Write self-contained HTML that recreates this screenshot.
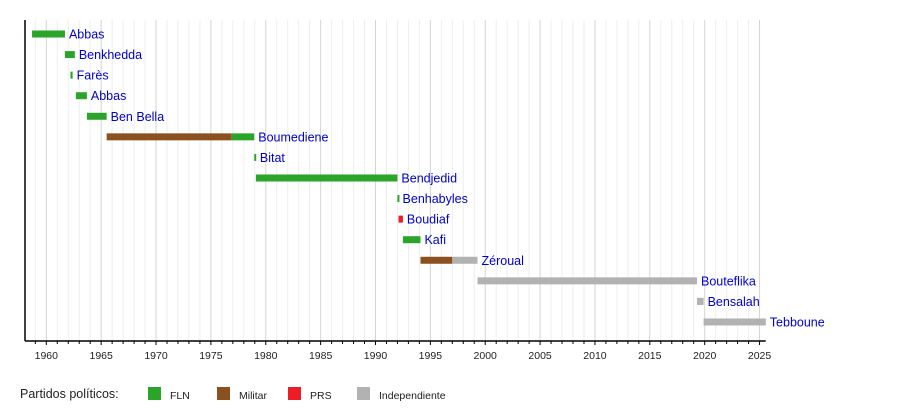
<!DOCTYPE html>
<html><head><meta charset="utf-8"><style>
body{margin:0;background:#fff;}
svg{display:block;font-family:"Liberation Sans",sans-serif;}
</style></head><body>
<svg id="chart" width="900" height="420">
<g id="grid"></g><g id="bars"></g><g id="axis"></g><g id="legend"></g>
</svg>
<script>
const names=["Abbas","Benkhedda","Farès","Abbas","Ben Bella","Boumediene","Bitat","Bendjedid","Benhabyles","Boudiaf","Kafi","Zéroual","Bouteflika","Bensalah","Tebboune"];
const segStarts=[[1958.7],[1961.7],[1962.2],[1962.7],[1963.7],[1965.5,1976.9],[1978.95],[1979.1],[1992.0],[1992.1],[1992.5],[1994.1,1997.0],[1999.3],[2019.3],[2019.9]];
const segEnds=[[1961.7],[1962.6],[1962.4],[1963.7],[1965.5],[1976.9,1978.95],[1979.1],[1992.0],[1992.1],[1992.5],[1994.1],[1997.0,1999.3],[2019.3],[2019.9],[2025.57]];
const segParty=[[0],[0],[0],[0],[0],[1,0],[0],[0],[0],[2],[0],[1,3],[3],[3],[3]];
const parties=["FLN","Militar","PRS","Independiente"];
const partyColors=["#2aa52a","#8b5220","#ee1c25","#b2b2b2"];
const tickYears=[1960,1965,1970,1975,1980,1985,1990,1995,2000,2005,2010,2015,2020,2025];
(function(){
const NS="http://www.w3.org/2000/svg";
const xs=yr=>46.3+(yr-1960)*10.973;
const rowY=i=>34+i*20.57;
const ax0=25,ax1=765.7,plotTop=20,plotBot=341;
function mk(t,a,p){const e=document.createElementNS(NS,t);for(const k in a)e.setAttribute(k,a[k]);p.appendChild(e);return e;}
const grid=document.getElementById('grid'),bars=document.getElementById('bars'),ax=document.getElementById('axis'),lg=document.getElementById('legend');
for(let yr=1959;yr<=2025;yr++){const g=mk('line',{x1:xs(yr),x2:xs(yr),y1:plotTop,y2:plotBot,stroke:yr%5==0?'#d4d4d4':'#eeeeee','stroke-width':1},grid);

}
names.forEach((n,i)=>{segStarts[i].forEach((s,j)=>{const r=mk('rect',{x:xs(s),y:rowY(i)-3.5,width:Math.max(2,xs(segEnds[i][j])-xs(s)),height:7,fill:partyColors[segParty[i][j]]},bars);

});
const last=segEnds[i][segEnds[i].length-1];
const t=mk('text',{x:xs(last)+4,y:rowY(i)+4.5,'font-size':12.5,fill:'#0000cc'},bars);t.textContent=n;

});
const l1=mk('line',{x1:ax0,x2:ax0,y1:plotTop,y2:plotBot,stroke:'#000','stroke-width':1.5},ax);


const l2=mk('line',{x1:ax0,x2:ax1,y1:plotBot,y2:plotBot,stroke:'#000','stroke-width':1.5},ax);


for(let yr=1959;yr<=2025;yr++){const tk=mk('line',{x1:xs(yr),x2:xs(yr),y1:plotBot,y2:plotBot+(yr%5==0?4:3),stroke:'#000','stroke-width':1},ax);

}
tickYears.forEach(yr=>{const t=mk('text',{x:xs(yr),y:359,'font-size':10.5,'text-anchor':'middle',fill:'#222'},ax);t.textContent=yr;

});
const lt=mk('text',{x:20,y:398,'font-size':12.5,fill:'#222'},lg);lt.textContent='Partidos políticos:';


const lx=[148,217,288,357];
parties.forEach((p,i)=>{const r=mk('rect',{x:lx[i],y:387,width:13,height:13,fill:partyColors[i]},lg);


const t=mk('text',{x:lx[i]+22,y:399,'font-size':10.5,fill:'#222'},lg);t.textContent=p;

});
})();
</script>
</body></html>
